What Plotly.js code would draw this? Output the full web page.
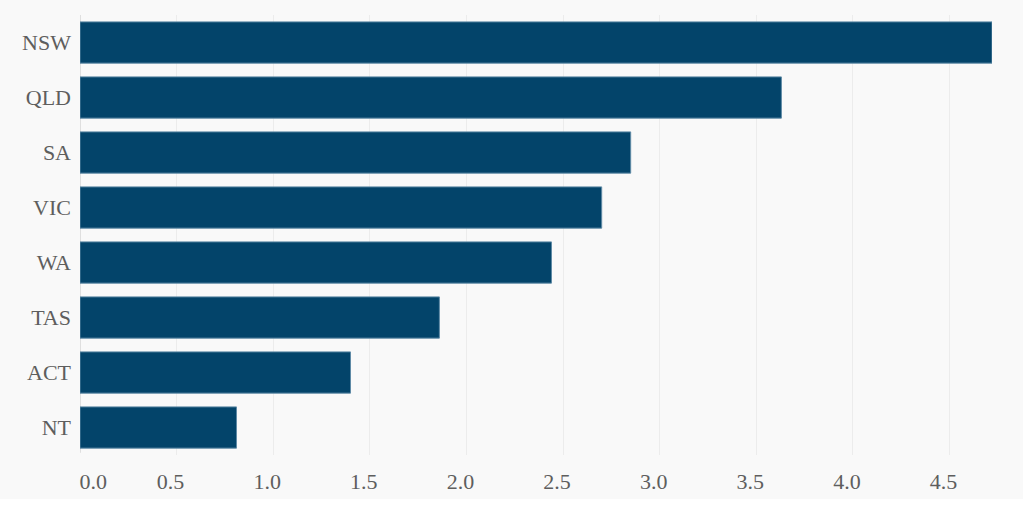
<!DOCTYPE html>
<html>
<head>
<meta charset="utf-8">
<script src="https://cdn.plot.ly/plotly-3.0.1.min.js"></script>
<style>html,body{margin:0;padding:0;background:#f9f9f9;}#chart{width:1023px;height:516px;}</style>
</head>
<body>
<div id="chart"></div>
<script>
const states = ["NSW", "QLD", "SA", "VIC", "WA", "TAS", "ACT", "NT"];
const values = [4.72, 3.63, 2.85, 2.70, 2.44, 1.86, 1.40, 0.81];
const tickValues = [0, 0.5, 1, 1.5, 2, 2.5, 3, 3.5, 4, 4.5];
const tickLabels = ["\u00a0\u00a0\u00a0\u00a0\u00a0\u00a0\u00a00.0", "0.5", "1.0", "1.5", "2.0", "2.5", "3.0", "3.5", "4.0", "4.5"];

const trace = {
  type: "bar",
  orientation: "h",
  x: values,
  y: states,
  marker: {color: "#03446a", line: {color: "#5f8aa6", width: 1}},
  hoverinfo: "x+y"
};

const layout = {
  width: 1023,
  height: 516,
  margin: {l: 80, r: 31, t: 15, b: 61},
  paper_bgcolor: "#f9f9f9",
  plot_bgcolor: "#f9f9f9",
  bargap: 0.25,
  showlegend: false,
  font: {family: "Liberation Serif, Times New Roman, serif", size: 22, color: "#5e5e5e"},
  xaxis: {
    range: [0, 4.72],
    tickvals: tickValues,
    ticktext: tickLabels,
    showgrid: true,
    gridcolor: "#ececec",
    gridwidth: 1,
    zeroline: false,
    showline: false,
    ticks: "",
    ticklabelshift: -6,
    ticklabelstandoff: 11,
    tickfont: {size: 22, color: "#5e5e5e"},
    fixedrange: true
  },
  yaxis: {
    categoryorder: "array",
    categoryarray: states.slice().reverse(),
    showgrid: false,
    zeroline: false,
    showline: false,
    ticks: "",
    ticklabelstandoff: 8,
    tickfont: {size: 22, color: "#5e5e5e"},
    fixedrange: true
  },
  shapes: [
    {type: "line", xref: "x", yref: "paper", x0: 0, x1: 0, y0: 0.005, y1: 1,
     line: {color: "#d6d6d6", width: 1.5}, layer: "below"},
    {type: "rect", xref: "paper", yref: "paper", x0: -0.2, x1: 1.2, y0: -0.14, y1: -0.1,
     fillcolor: "#ffffff", line: {width: 0}, layer: "below"}
  ]
};

Plotly.newPlot("chart", [trace], layout, {displayModeBar: false, staticPlot: true});
</script>
</body>
</html>
